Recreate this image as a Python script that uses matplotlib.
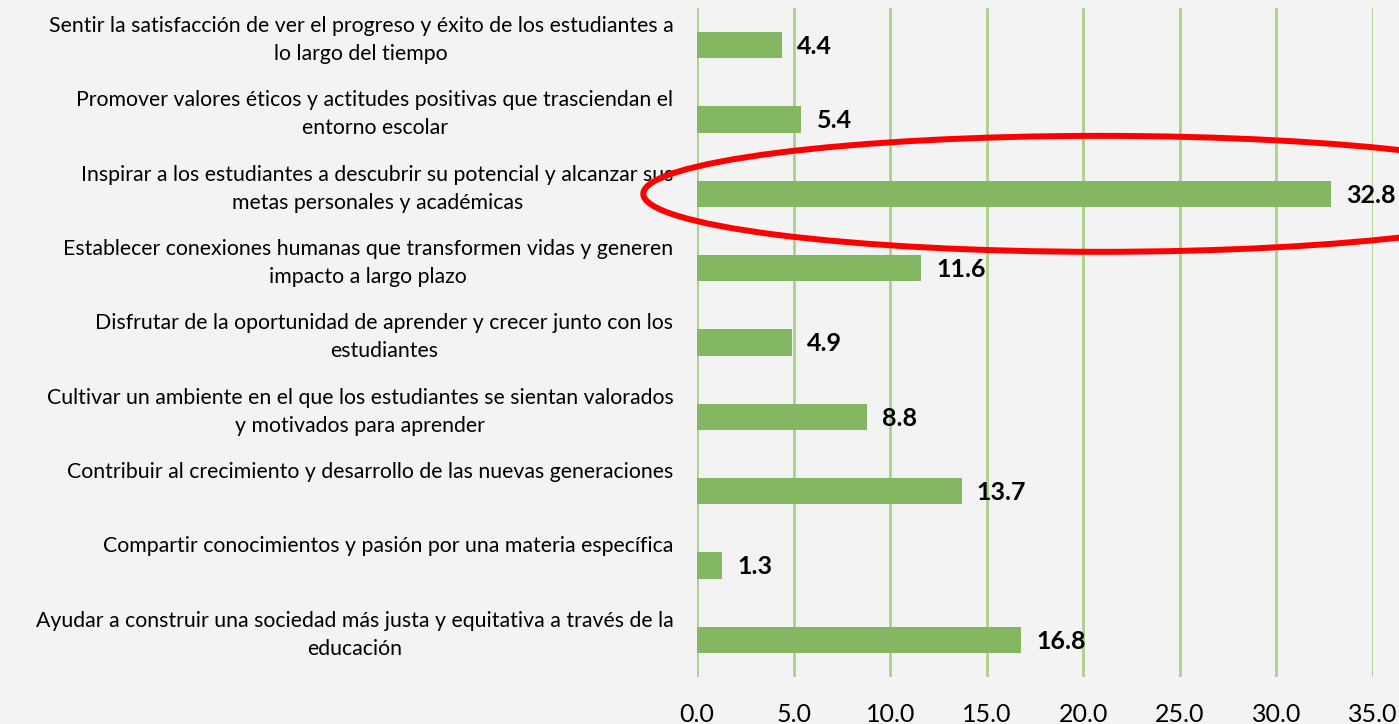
import matplotlib.pyplot as plt
from matplotlib.patches import Ellipse

# Data (top to bottom as shown)
categories = [
    "Sentir la satisfacción de ver el progreso y éxito de los estudiantes a\nlo largo del tiempo",
    "Promover valores éticos y actitudes positivas que trasciendan el\nentorno escolar",
    "Inspirar a los estudiantes a descubrir su potencial y alcanzar sus\nmetas personales y académicas",
    "Establecer conexiones humanas que transformen vidas y generen\nimpacto a largo plazo",
    "Disfrutar de la oportunidad de aprender y crecer junto con los\nestudiantes",
    "Cultivar un ambiente en el que los estudiantes se sientan valorados\ny motivados para aprender",
    "Contribuir al crecimiento y desarrollo de las nuevas generaciones",
    "Compartir conocimientos y pasión por una materia específica",
    "Ayudar a construir una sociedad más justa y equitativa a través de la\neducación",
]
values = [4.4, 5.4, 32.8, 11.6, 4.9, 8.8, 13.7, 1.3, 16.8]
xticks = [0, 5, 10, 15, 20, 25, 30, 35]
highlight = 2  # category circled in red

bg = "#f3f3f3"
bar_color = "#84b762"
grid_color = "#a9d18e"

plt.rcParams['font.family'] = ['Lato', 'DejaVu Sans']

fig = plt.figure(figsize=(13.99, 7.24), dpi=100, facecolor=bg)
ax = fig.add_axes([697 / 1399, 47 / 724, 676 / 1399, 669 / 724])
ax.set_facecolor(bg)

y = list(range(len(values)))
ax.barh(y, values, height=0.35, color=bar_color, zorder=3)
ax.set_ylim(len(values) - 0.5, -0.5)
ax.set_xlim(0, 35)

ax.set_xticks(xticks)
ax.set_xticklabels([f"{v:.1f}" for v in xticks], fontsize=18)
ax.tick_params(axis='x', length=0, pad=19)
ax.set_yticks([])
ax.grid(axis='x', color=grid_color, linewidth=2, zorder=0)
for s in ax.spines.values():
    s.set_visible(False)

# category labels, top-anchored left of the axis
for i, lab in enumerate(categories):
    ax.annotate(lab, xy=(0, i), xycoords='data', xytext=(-17, 21),
                textcoords='offset points', ha='right', va='top',
                multialignment='center', fontsize=15.3, linespacing=1.5,
                annotation_clip=False)

# value labels
for i, v in enumerate(values):
    ax.annotate(f"{v:.1f}", xy=(v, i), xytext=(11, -1), textcoords='offset points',
                ha='left', va='center', fontsize=18, fontweight='bold',
                annotation_clip=False)

# red ellipse around highlighted bar
ell = Ellipse((20.87, highlight), width=47.3, height=1.56, fill=False,
              edgecolor='#ff0000', linewidth=4.3, clip_on=False, zorder=5)
ax.add_patch(ell)

fig.savefig("out.png", dpi=100, facecolor=bg)
